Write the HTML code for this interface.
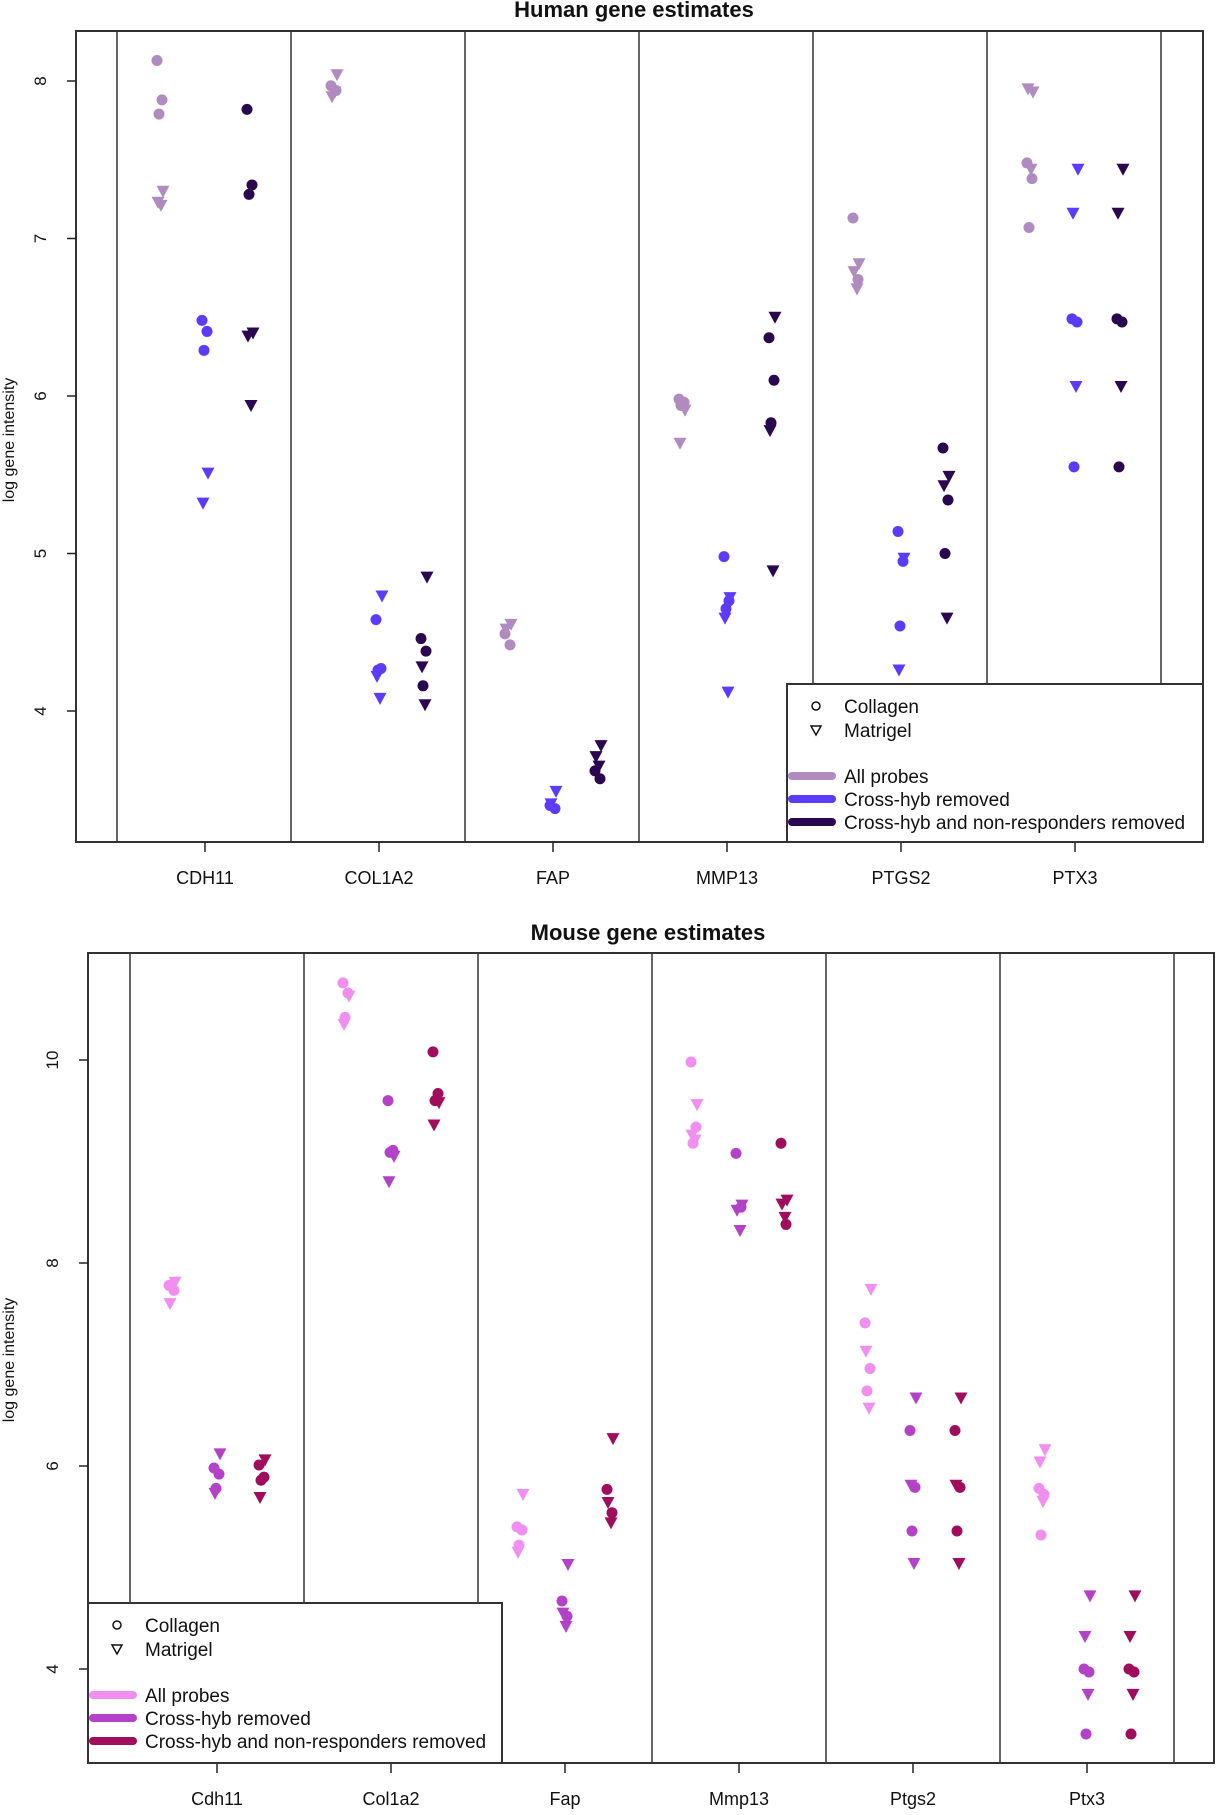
<!DOCTYPE html>
<html><head><meta charset="utf-8">
<style>
html,body{margin:0;padding:0;background:#fff;}
svg{display:block;font-family:"Liberation Sans",Arial,sans-serif;}
</style></head>
<body>
<svg id="chart" width="1225" height="1815" viewBox="0 0 1225 1815" xmlns="http://www.w3.org/2000/svg"></svg>
<script>
// ---------- Human data ----------
const humanGenes = ["CDH11","COL1A2","FAP","MMP13","PTGS2","PTX3"];
const humanYTicks = [4,5,6,7,8];
const hAllCol  = [[8.13,7.88,7.79],[7.97,7.94],[4.49,4.42],[5.98,5.96,5.94],[7.13,6.74],[7.48,7.38,7.07]];
const hAllMat  = [[7.30,7.23,7.21],[8.04,7.90,7.93],[4.55,4.52],[5.91,5.70],[6.84,6.79,6.68],[7.93,7.95,7.44]];
const hXhCol   = [[6.48,6.41,6.29],[4.58,4.27,4.26],[3.40,3.38],[4.98,4.70,4.65],[5.14,4.95,4.54],[6.49,6.47,5.55]];
const hXhMat   = [[5.51,5.32],[4.73,4.22,4.08],[3.49,3.41],[4.72,4.59,4.12],[4.97,4.26],[7.44,7.16,6.06]];
const hNrCol   = [[7.82,7.34,7.28],[4.46,4.38,4.16],[3.62,3.57],[6.37,6.10,5.83],[5.67,5.34,5.00],[6.49,6.47,5.55]];
const hNrMat   = [[6.40,6.38,5.94],[4.85,4.28,4.04],[3.78,3.71,3.65],[6.50,5.78,4.89],[5.49,5.43,4.59],[7.44,7.16,6.06]];
// ---------- Mouse data ----------
const mouseGenes = ["Cdh11","Col1a2","Fap","Mmp13","Ptgs2","Ptx3"];
const mouseYTicks = [4,6,8,10];
const mAllCol  = [[7.78,7.73],[10.76,10.66,10.42],[5.40,5.37,5.22],[9.98,9.34,9.18],[7.41,6.96,6.74],[5.78,5.72,5.32]];
const mAllMat  = [[7.81,7.60],[10.63,10.35],[5.72,5.15],[9.56,9.26,9.21],[7.74,7.13,6.57],[6.16,6.04,5.65]];
const mXhCol   = [[5.98,5.92,5.78],[9.60,9.11,9.09],[4.67,4.52],[9.08,8.55],[6.35,5.79,5.36],[4.00,3.97,3.36]];
const mXhMat   = [[6.12,5.73],[9.05,8.80],[5.03,4.55,4.42],[8.57,8.52,8.32],[6.67,5.81,5.04],[4.72,4.32,3.75]];
const mNrCol   = [[6.01,5.89,5.86],[10.08,9.67,9.60],[5.77,5.54],[9.18,8.38],[6.35,5.79,5.36],[4.00,3.97,3.36]];
const mNrMat   = [[6.06,5.69],[9.58,9.36],[6.27,5.64,5.44],[8.62,8.58,8.45],[6.67,5.81,5.04],[4.72,4.32,3.75]];

const NS="http://www.w3.org/2000/svg";
const svg=document.getElementById('chart');
function mk(tag,attrs,parent,text){const e=document.createElementNS(NS,tag);for(const k in attrs)e.setAttribute(k,attrs[k]);if(text!==undefined)e.textContent=text;(parent||svg).appendChild(e);return e;}
const jit=[-3,2,-1,3,-2,1];

function drawPanel(cfg){
  const g=mk('g',{});
  
  
  const y=v=>cfg.y0+(v-cfg.v0)*(cfg.y1-cfg.y0)/(cfg.v1-cfg.v0);
  const x=i=>cfg.cx0+i*cfg.step;
  const t=mk('text',{x:cfg.titleX,y:cfg.titleY,'text-anchor':'middle','font-size':22,'font-weight':'bold',fill:'#111'},g,cfg.title);
  
  
  for(let k=0;k<=cfg.genes.length;k++){
    const lx=cfg.sep0+k*cfg.step;
    const l=mk('line',{x1:lx,x2:lx,y1:cfg.top,y2:cfg.bottom,stroke:'#333','stroke-width':1.5},g);
    
    
  }
  const b=mk('rect',{x:cfg.left,y:cfg.top,width:cfg.right-cfg.left,height:cfg.bottom-cfg.top,fill:'none',stroke:'#333','stroke-width':2},g);
  
  
  cfg.yTicks.forEach(v=>{
    const ty=y(v);
    const tl=mk('line',{x1:cfg.left-9,x2:cfg.left,y1:ty,y2:ty,stroke:'#222','stroke-width':1.5},g);
    
    
    const tx=mk('text',{x:cfg.left-30,y:ty,'text-anchor':'middle','font-size':17,fill:'#111',transform:`rotate(-90 ${cfg.left-30} ${ty})`},g,String(v));
    
    
  });
  const yt=mk('text',{x:14,y:cfg.yTitleY,'text-anchor':'middle','font-size':16,fill:'#111',transform:`rotate(-90 14 ${cfg.yTitleY})`},g,'log gene intensity');
  
  
  cfg.genes.forEach((gn,i)=>{
    const tl=mk('line',{x1:x(i),x2:x(i),y1:cfg.bottom,y2:cfg.bottom+10,stroke:'#222','stroke-width':1.5},g);
    
    
    const tx=mk('text',{x:x(i),y:cfg.labelY,'text-anchor':'middle','font-size':18,fill:'#111'},g,gn);
    
    
  });
  const groups=[[cfg.allCol,cfg.allMat,-45,cfg.colors[0]],[cfg.xhCol,cfg.xhMat,0,cfg.colors[1]],[cfg.nrCol,cfg.nrMat,45,cfg.colors[2]]];
  groups.forEach(([col,mat,off,c])=>{
    col.forEach((arr,i)=>arr.forEach((v,j)=>{
      const p=mk('circle',{cx:x(i)+off+jit[j],cy:y(v),r:5.5,fill:c},g);
      
      
    }));
    mat.forEach((arr,i)=>arr.forEach((v,j)=>{
      const px=x(i)+off+jit[(j+3)%6], py=y(v);
      const p=mk('polygon',{points:`${px-6.5},${py-5.5} ${px+6.5},${py-5.5} ${px},${py+6.5}`,fill:c},g);
      
      
    }));
  });
  const L=cfg.leg;
  const lg=mk('g',{},g);
  
  
  mk('rect',{x:L.x,y:L.y,width:L.w,height:L.h,fill:'#fff',stroke:'#333','stroke-width':2},lg);
  const sx=L.x+29, tx0=L.x+57;
  mk('circle',{cx:sx,cy:L.y+22,r:4,fill:'none',stroke:'#111','stroke-width':1.5},lg);
  const e1=mk('text',{x:tx0,y:L.y+29,'font-size':19,fill:'#111'},lg,'Collagen');
  
  
  mk('polygon',{points:`${sx-5},${L.y+42} ${sx+5},${L.y+42} ${sx},${L.y+51}`,fill:'none',stroke:'#111','stroke-width':1.5},lg);
  const e2=mk('text',{x:tx0,y:L.y+53,'font-size':19,fill:'#111'},lg,'Matrigel');
  
  
  const names=['All probes','Cross-hyb removed','Cross-hyb and non-responders removed'];
  names.forEach((n,k)=>{
    const ly=L.y+92+k*23;
    mk('line',{x1:L.x+5,x2:L.x+45,y1:ly,y2:ly,stroke:cfg.colors[k],'stroke-width':8,'stroke-linecap':'round'},lg);
    const te=mk('text',{x:tx0,y:ly+7,'font-size':19,fill:'#111'},lg,n);
    
    
  });
}

drawPanel({name:'human-panel',title:'Human gene estimates',titleX:634,titleY:17,
  left:76,right:1203,top:31,bottom:842,sep0:117,step:174,cx0:205,
  v0:8,y0:81,v1:4,y1:711,yTicks:humanYTicks,yTitleY:440,labelY:884,genes:humanGenes,
  allCol:hAllCol,allMat:hAllMat,xhCol:hXhCol,xhMat:hXhMat,nrCol:hNrCol,nrMat:hNrMat,
  colors:['#b08bc0','#5b3cff','#2a0850'],
  leg:{x:787,y:684,w:416,h:158}});
drawPanel({name:'mouse-panel',title:'Mouse gene estimates',titleX:648,titleY:940,
  left:88,right:1214,top:953,bottom:1763,sep0:130,step:174,cx0:217,
  v0:10,y0:1060,v1:4,y1:1669,yTicks:mouseYTicks,yTitleY:1360,labelY:1805,genes:mouseGenes,
  allCol:mAllCol,allMat:mAllMat,xhCol:mXhCol,xhMat:mXhMat,nrCol:mNrCol,nrMat:mNrMat,
  colors:['#f08ff0','#b342c8','#a00d5c'],
  leg:{x:88,y:1603,w:414,h:160}});
</script>
</body></html>
